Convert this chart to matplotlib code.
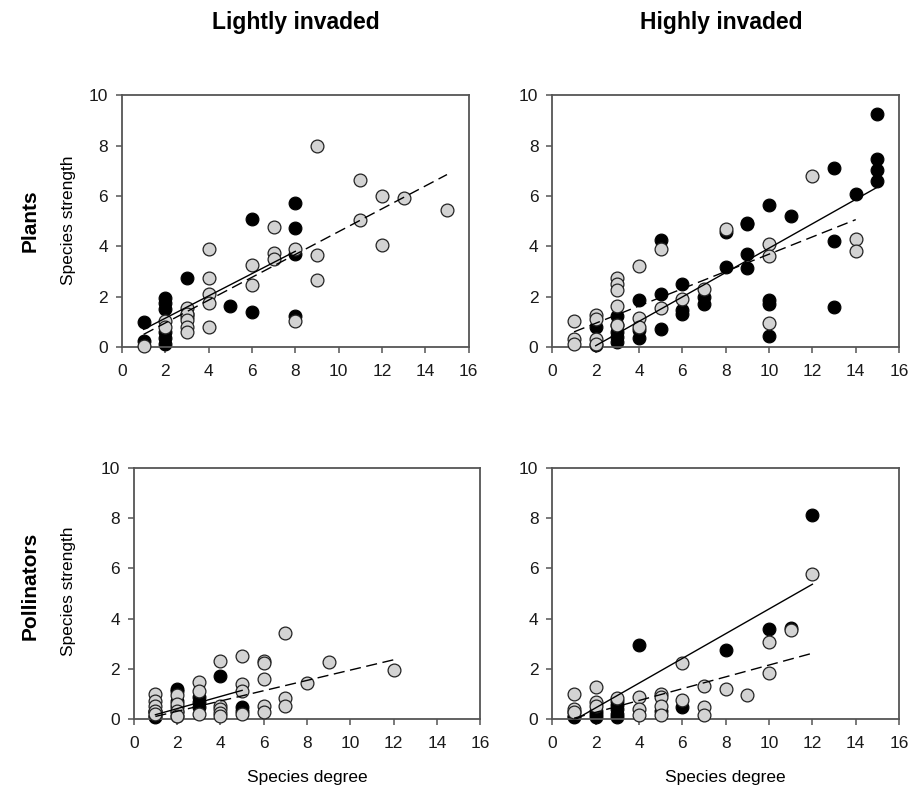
import matplotlib
matplotlib.use('Agg')
import matplotlib.pyplot as plt

plt.rcParams['font.family'] = ['Liberation Sans', 'DejaVu Sans']

# ---- data ----
# top left: plants, lightly invaded
pl_li_black_x = [1, 1, 2, 2, 2, 2, 2, 2, 3, 3, 3, 5, 6, 6, 8, 8, 8, 8]
pl_li_black_y = [1.0, 0.22, 1.95, 1.75, 1.5, 0.6, 0.35, 0.12, 2.75, 1.32, 1.2, 1.63, 5.08, 1.38, 5.72, 4.74, 3.68, 1.25]
pl_li_gray_x = [1, 2, 2, 3, 3, 3, 3, 3, 4, 4, 4, 4, 4, 6, 6, 7, 7, 7, 8, 8, 9, 9, 9, 11, 11, 12, 12, 13, 15]
pl_li_gray_y = [0.04, 1.03, 0.8, 1.55, 1.3, 1.06, 0.8, 0.6, 3.88, 2.75, 2.1, 1.75, 0.8, 3.24, 2.48, 4.77, 3.75, 3.48, 3.9, 1.03,
                7.97, 3.64, 2.68, 6.65, 5.06, 5.99, 4.07, 5.93, 5.43]
pl_li_fit_solid = ([1, 8], [0.7, 3.8])
pl_li_fit_dash = ([1, 15], [0.5, 6.85])

# top right: plants, highly invaded
pl_hi_black_x = [2, 2, 3, 3, 3, 3, 3, 4, 4, 4, 5, 5, 5, 6, 6, 6, 7, 7, 8, 8, 9, 9, 9, 9,
                 10, 10, 10, 10, 11, 13, 13, 13, 14, 15, 15, 15, 15]
pl_hi_black_y = [0.8, 0.07, 1.23, 0.86, 0.6, 0.4, 0.2, 1.88, 0.66, 0.36, 4.26, 2.12, 0.73, 2.52, 1.48, 1.32, 1.99, 1.7,
                 4.57, 3.18, 4.93, 4.87, 3.68, 3.15, 5.63, 1.85, 1.7, 0.42, 5.19, 7.13, 4.21, 1.59, 6.09, 9.25, 7.48, 7.02, 6.6]
pl_hi_gray_x = [1, 1, 1, 2, 2, 2, 2, 3, 3, 3, 3, 3, 4, 4, 4, 5, 5, 6, 7, 8, 10, 10, 10, 12, 14, 14]
pl_hi_gray_y = [1.03, 0.33, 0.13, 1.26, 1.1, 0.33, 0.13, 2.75, 2.5, 2.25, 1.62, 0.86, 3.2, 1.17, 0.8, 3.9, 1.55, 1.92, 2.32,
                4.7, 4.1, 3.6, 0.97, 6.8, 4.3, 3.8]
pl_hi_fit_solid = ([2, 15], [0.05, 6.35])
pl_hi_fit_dash = ([1, 14], [0.6, 5.06])

# bottom left: pollinators, lightly invaded
po_li_black_x = [1, 1, 1, 1, 2, 2, 2, 2, 2, 2, 3, 3, 3, 4, 5, 5]
po_li_black_y = [0.33, 0.27, 0.13, 0.06, 1.2, 1.1, 0.73, 0.47, 0.27, 0.12, 0.87, 0.67, 0.47, 1.71, 0.47, 0.33]
po_li_gray_x = [1, 1, 1, 1, 1, 2, 2, 2, 2, 3, 3, 3, 4, 4, 4, 4, 4, 5, 5, 5, 5, 6, 6, 6, 6, 6, 7, 7, 7, 8, 9, 12]
po_li_gray_y = [1.0, 0.73, 0.53, 0.33, 0.2, 0.95, 0.6, 0.3, 0.1, 1.47, 1.13, 0.2, 2.3, 0.53, 0.38, 0.25, 0.1,
                2.49, 1.4, 1.13, 0.2, 2.3, 2.23, 1.6, 0.53, 0.27, 3.43, 0.83, 0.53, 1.43, 2.29, 1.96]
po_li_fit_solid = ([1, 5], [0.17, 1.14])
po_li_fit_dash = ([1, 12], [0.1, 2.36])

# bottom right: pollinators, highly invaded
po_hi_black_x = [1, 1, 1, 2, 2, 2, 3, 3, 3, 3, 3, 4, 5, 6, 8, 10, 11, 12]
po_hi_black_y = [0.27, 0.13, 0.06, 0.33, 0.2, 0.06, 0.7, 0.55, 0.4, 0.2, 0.06, 2.93, 0.31, 0.49, 2.76, 3.57, 3.64, 8.13]
po_hi_gray_x = [1, 1, 1, 2, 2, 2, 3, 4, 4, 4, 5, 5, 5, 5, 6, 6, 7, 7, 7, 8, 9, 10, 10, 11, 12]
po_hi_gray_y = [1.0, 0.4, 0.27, 1.27, 0.69, 0.53, 0.83, 0.89, 0.4, 0.16, 1.0, 0.87, 0.53, 0.15, 2.24, 0.76,
                1.31, 0.47, 0.16, 1.2, 0.96, 3.07, 1.84, 3.56, 5.77]
po_hi_fit_solid = ([1, 12], [-0.05, 5.37])
po_hi_fit_dash = ([1, 12], [0.03, 2.62])

xticks = [0, 2, 4, 6, 8, 10, 12, 14, 16]
yticks = [0, 2, 4, 6, 8, 10]

panels = [
    ([0.134, 0.563, 0.381, 0.317], pl_li_black_x, pl_li_black_y, pl_li_gray_x, pl_li_gray_y, pl_li_fit_solid, pl_li_fit_dash),
    ([0.607, 0.563, 0.381, 0.317], pl_hi_black_x, pl_hi_black_y, pl_hi_gray_x, pl_hi_gray_y, pl_hi_fit_solid, pl_hi_fit_dash),
    ([0.147, 0.0945, 0.381, 0.316], po_li_black_x, po_li_black_y, po_li_gray_x, po_li_gray_y, po_li_fit_solid, po_li_fit_dash),
    ([0.607, 0.0945, 0.381, 0.316], po_hi_black_x, po_hi_black_y, po_hi_gray_x, po_hi_gray_y, po_hi_fit_solid, po_hi_fit_dash),
]

fig = plt.figure(figsize=(9.1, 7.94), dpi=100)
axes = []
for rect, bx, by, gx, gy, fs, fd in panels:
    ax = fig.add_axes(rect)
    ax.plot(fs[0], fs[1], color='black', lw=1.0, zorder=4)
    ax.plot(fd[0], fd[1], color='black', lw=1.0, ls=(0, (8, 4)), zorder=4)
    ax.scatter(bx, by, s=85, c='black', edgecolors='black', linewidths=0.8, zorder=2, clip_on=False)
    ax.scatter(gx, gy, s=85, c='#d3d3d3', edgecolors='#222222', linewidths=0.9, zorder=3, clip_on=False)
    ax.set_xlim(0, 16)
    ax.set_ylim(0, 10)
    ax.set_xticks(xticks)
    ax.set_yticks(yticks)
    for s in ax.spines.values():
        s.set_color('#555555')
        s.set_linewidth(1.3)
    ax.tick_params(direction='out', length=4, width=1.1, color='#555555', labelsize=12.5,
                   labelcolor='#1a1a1a', pad=6)
    ax.tick_params(axis='x', pad=8)
    axes.append(ax)

axes[2].set_xlabel('Species degree', fontsize=12.5, labelpad=14)
axes[3].set_xlabel('Species degree', fontsize=12.5, labelpad=14)

fig.text(0.325, 0.972, 'Lightly invaded', ha='center', va='center', fontsize=16.5, fontweight='bold')
fig.text(0.793, 0.972, 'Highly invaded', ha='center', va='center', fontsize=16.5, fontweight='bold')

fig.text(0.033, 0.722, 'Plants', rotation=90, ha='center', va='center', fontsize=15, fontweight='bold')
fig.text(0.075, 0.722, 'Species strength', rotation=90, ha='center', va='center', fontsize=12.5)
fig.text(0.033, 0.262, 'Pollinators', rotation=90, ha='center', va='center', fontsize=15, fontweight='bold')
fig.text(0.075, 0.255, 'Species strength', rotation=90, ha='center', va='center', fontsize=12.5)

fig.savefig('out.png', dpi=100)
